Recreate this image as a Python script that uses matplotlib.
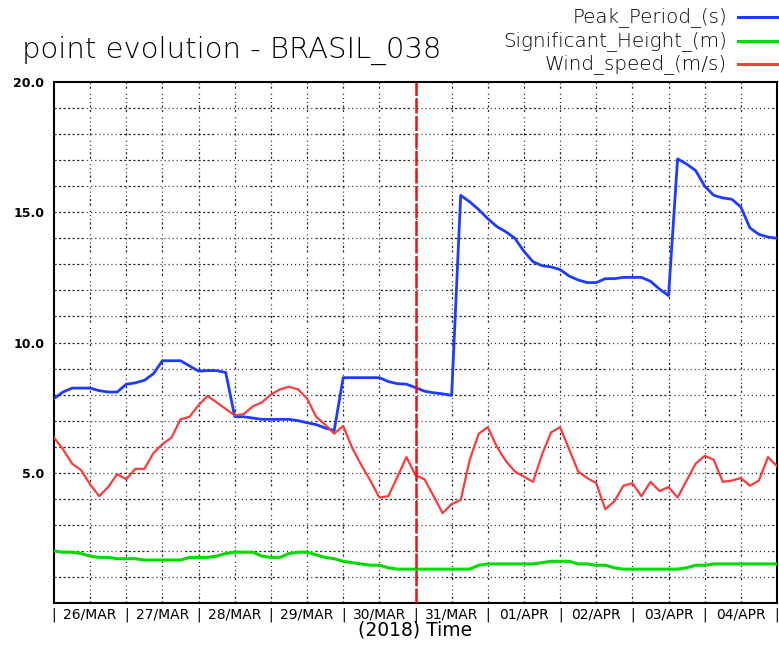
import numpy as np
import pandas as pd
import matplotlib
matplotlib.use("Agg")
import matplotlib.pyplot as plt
import matplotlib.dates as mdates
from matplotlib.lines import Line2D

# ---- data (3-hourly, starting 2018-03-26 00 UTC) ----
start = "2018-03-26"
n_steps = 81
peak_period = [7.85, 8.1, 8.25, 8.25, 8.25, 8.15, 8.1, 8.1, 8.4, 8.45,
               8.55, 8.8, 9.3, 9.3, 9.3, 9.1, 8.9, 8.92, 8.92, 8.85,
               7.15, 7.15, 7.1, 7.05, 7.05, 7.05, 7.05, 7.0, 6.92, 6.85,
               6.72, 6.62, 8.65, 8.65, 8.65, 8.65, 8.65, 8.5, 8.42, 8.4,
               8.27, 8.13, 8.07, 8.03, 7.97, 15.65, 15.4, 15.1, 14.75, 14.45,
               14.25, 14.0, 13.5, 13.1, 12.95, 12.9, 12.8, 12.55, 12.4, 12.3,
               12.3, 12.45, 12.45, 12.5, 12.5, 12.5, 12.35, 12.05, 11.8, 17.05,
               16.85, 16.6, 16.0, 15.65, 15.55, 15.5, 15.2, 14.4, 14.15, 14.05,
               14.0]
sig_height = [2.0, 1.95, 1.95, 1.9, 1.8, 1.75, 1.75, 1.7, 1.7, 1.7,
              1.65, 1.65, 1.65, 1.65, 1.65, 1.75, 1.75, 1.75, 1.8, 1.9,
              1.95, 1.95, 1.95, 1.8, 1.75, 1.75, 1.9, 1.95, 1.95, 1.85,
              1.75, 1.7, 1.6, 1.55, 1.5, 1.45, 1.45, 1.35, 1.3, 1.3,
              1.3, 1.3, 1.3, 1.3, 1.3, 1.3, 1.3, 1.45, 1.5, 1.5,
              1.5, 1.5, 1.5, 1.5, 1.55, 1.6, 1.6, 1.6, 1.5, 1.5,
              1.45, 1.45, 1.35, 1.3, 1.3, 1.3, 1.3, 1.3, 1.3, 1.3,
              1.35, 1.45, 1.45, 1.5, 1.5, 1.5, 1.5, 1.5, 1.5, 1.5,
              1.5]
wind_speed = [6.35, 5.9, 5.35, 5.1, 4.55, 4.1, 4.45, 4.95, 4.75, 5.15,
              5.15, 5.75, 6.1, 6.35, 7.05, 7.15, 7.6, 7.95, 7.7, 7.45,
              7.2, 7.25, 7.55, 7.7, 8.0, 8.2, 8.3, 8.2, 7.85, 7.15,
              6.85, 6.5, 6.8, 5.95, 5.3, 4.7, 4.05, 4.1, 4.85, 5.6,
              4.9, 4.75, 4.1, 3.45, 3.8, 3.95, 5.5, 6.5, 6.75, 6.0,
              5.45, 5.05, 4.85, 4.65, 5.7, 6.55, 6.75, 5.9, 5.05, 4.8,
              4.6, 3.6, 3.9, 4.5, 4.6, 4.1, 4.65, 4.3, 4.45, 4.05,
              4.7, 5.35, 5.65, 5.5, 4.65, 4.7, 4.8, 4.5, 4.7, 5.6,
              5.25]
day_labels = ["26/MAR", "27/MAR", "28/MAR", "29/MAR", "30/MAR",
              "31/MAR", "01/APR", "02/APR", "03/APR", "04/APR"]
y_ticks = [5, 10, 15, 20]
y_ticklabels = ["5.0", "10.0", "15.0", "20.0"]
marker_time = "2018-03-31 00:00"
series_names = ["Peak_Period_(s)", "Significant_Height_(m)", "Wind_speed_(m/s)"]

BLUE = "#1e3cff"
GREEN = "#00dc00"
RED = "#fa3c3c"

times = pd.date_range(start, periods=n_steps, freq="3h")
tnum = mdates.date2num(times)

W, H = 779, 650
fig = plt.figure(figsize=(W / 100, H / 100), dpi=100)
ax = fig.add_axes([54 / W, 1 - 603 / H, (777 - 54) / W, (603 - 82) / H])

x0 = mdates.date2num(pd.Timestamp(start))
x1 = x0 + len(day_labels)
ax.set_xlim(x0, x1)
ax.set_ylim(0, 20)

PX = 0.72  # points per pixel
GRID_C = "#2a2a2a"
# horizontal grid: dashed in first half-day, dotted in second half-day
hdash = [2.5, 2.5] * 7
hdash[-1] += 1.25
hdot = [1.2, 3.3] * 8
hdot[-1] += 0.25
hpat = [v * PX for v in hdash + hdot]
for yv in range(1, 20):
    ax.axhline(yv, color=GRID_C, lw=0.9, dashes=hpat, zorder=1)
# vertical grid every 12 h
vpat = [v * PX for v in [2.5, 2.5, 2.5, 2.5, 1.2, 3.3, 1.2, 3.3, 1.2, 5.8]]
for k in range(1, 2 * len(day_labels)):
    ax.axvline(x0 + k * 0.5, color=GRID_C, lw=0.9, dashes=vpat, zorder=1)

ax.plot(tnum, peak_period, color=BLUE, lw=2.0, zorder=3)
ax.plot(tnum, sig_height, color=GREEN, lw=2.2, zorder=3)
ax.plot(tnum, wind_speed, color=RED, lw=1.6, zorder=3)

ax.axvline(mdates.date2num(pd.Timestamp(marker_time)), color="#f01010",
           lw=1.8, dashes=(6, 1), zorder=4)

for s in ax.spines.values():
    s.set_linewidth(1.5)
    s.set_color("black")

ax.set_yticks(y_ticks)
ax.set_yticklabels(y_ticklabels, fontsize=9, fontweight="bold")
ax.tick_params(axis="y", length=0, pad=7)

ax.set_xticks([x0 + i + 0.5 for i in range(len(day_labels))])
ax.set_xticklabels(day_labels, fontsize=10)
ax.set_xticks([x0 + i for i in range(len(day_labels) + 1)], minor=True)
ax.set_xticklabels(["|"] * (len(day_labels) + 1), minor=True, fontsize=10)
ax.tick_params(axis="x", which="both", length=0, pad=3)
ax.set_xlabel("(2018) Time", fontsize=13.5, labelpad=-1)

fig.text(22 / W, 1 - 50 / H, "point evolution - BRASIL_038", fontsize=21,
         ha="left", va="center", fontweight="light", color="black")

leg_y = [17, 41, 64]
for name, col, yy in zip(series_names, [BLUE, GREEN, RED], leg_y):
    fig.text(727 / W, 1 - yy / H, name, fontsize=14.3, ha="right",
             va="center", fontweight="light", color="black")
    fig.add_artist(Line2D([738 / W, 779 / W], [1 - yy / H, 1 - yy / H],
                          color=col, lw=2.2, transform=fig.transFigure))

fig.savefig("out.png", dpi=100)
